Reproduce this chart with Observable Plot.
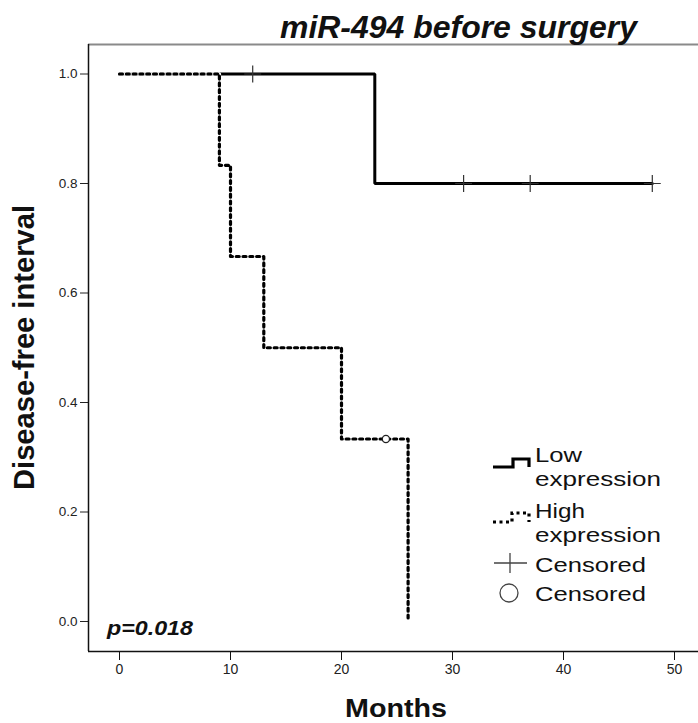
<!DOCTYPE html>
<html>
<head>
<meta charset="utf-8">
<script src="https://cdn.jsdelivr.net/npm/d3@7"></script>
<script src="https://cdn.jsdelivr.net/npm/@observablehq/plot@0.6"></script>
<style>
  html, body { margin: 0; padding: 0; background: #fff; }
  #wrap { position: relative; width: 698px; height: 723px; overflow: hidden; font-family: "Liberation Sans", Arial, sans-serif; }
  #wrap svg { position: absolute; left: 0; top: 0; }
</style>
</head>
<body>
<div id="wrap"></div>
<script>
// ---- data ----
const lowTime = [0, 23, 48];
const lowSurv = [1, 0.8, 0.8];
const highTime = [0, 9, 10, 13, 20, 26];
const highSurv = [1, 0.8333, 0.6667, 0.5, 0.3333, 0];
const lowCensTime = [12, 31, 37, 48];
const lowCensSurv = [1, 0.8, 0.8, 0.8];
const highCensTime = [24];
const highCensSurv = [0.3333];
const xTicks = [0, 10, 20, 30, 40, 50];
const yTicks = [0, 0.2, 0.4, 0.6, 0.8, 1.0];
const titleText = "miR-494 before surgery";
const xLabel = "Months";
const yLabel = "Disease-free interval";
const pText = "p=0.018";
const legendLabels = [["Low", "expression"], ["High", "expression"], ["Censored"], ["Censored"]];

const low = lowTime.map((t, i) => ({t, s: lowSurv[i]}));
const high = highTime.map((t, i) => ({t, s: highSurv[i]}));
const lowC = lowCensTime.map((t, i) => ({t, s: lowCensSurv[i]}));
const highC = highCensTime.map((t, i) => ({t, s: highCensSurv[i]}));

const xDom = [-2.793, 52.162];
const yDom = [-0.0548, 1.0539];

const chart = Plot.plot({
  width: 698,
  height: 723,
  marginLeft: 88,
  marginRight: 0,
  marginTop: 44,
  marginBottom: 72,
  style: {fontFamily: "Liberation Sans, Arial, sans-serif", background: "transparent"},
  x: {domain: xDom},
  y: {domain: yDom},
  marks: [
    Plot.axisX({ticks: xTicks, tickSize: 9, tickPadding: 4, fontSize: 14, color: "#222", label: null, stroke: "#111"}),
    Plot.axisY({ticks: yTicks, tickFormat: d3.format(".1f"), tickSize: 8, tickPadding: 3, fontSize: 13.5, color: "#222", label: null}),
    Plot.ruleY([yDom[1]], {stroke: "#8a8a8a", strokeWidth: 2.2}),
    Plot.ruleX([xDom[0]], {stroke: "#111", strokeWidth: 1.5}),
    Plot.ruleY([yDom[0]], {stroke: "#111", strokeWidth: 1.5}),
    Plot.line(low, {x: "t", y: "s", curve: "step-after", stroke: "#000", strokeWidth: 3, strokeLinejoin: "miter"}),
    Plot.line(high, {x: "t", y: "s", curve: "step-after", stroke: "#fff", strokeWidth: 3.4}),
    Plot.line(high, {x: "t", y: "s", curve: "step-after", stroke: "#000", strokeWidth: 3.2, strokeDasharray: "3,3.8"}),
    Plot.dot(lowC, {x: "t", y: "s", symbol: "plus", r: 5.5, stroke: "#333", strokeWidth: 1.2}),
    Plot.dot(highC, {x: "t", y: "s", symbol: "circle", r: 3.6, fill: "#fff", stroke: "#222", strokeWidth: 1.3})
  ]
});
document.getElementById("wrap").appendChild(chart);

// ---- overlay: titles, legend, annotation ----
const svg = d3.select("#wrap").append("svg").attr("width", 698).attr("height", 723)
  .style("font-family", "Liberation Sans, Arial, sans-serif");

svg.append("text").attr("x", 280).attr("y", 38)
  .attr("font-size", 31.5).attr("font-weight", "bold").attr("font-style", "italic").attr("fill", "#111")
  .attr("textLength", 357).attr("lengthAdjust", "spacingAndGlyphs")
  .text(titleText);

svg.append("text").attr("x", 345).attr("y", 717)
  .attr("font-size", 26).attr("font-weight", "bold").attr("fill", "#111")
  .attr("textLength", 102).attr("lengthAdjust", "spacingAndGlyphs")
  .text(xLabel);

svg.append("text").attr("transform", "translate(34,490) rotate(-90)")
  .attr("font-size", 29).attr("font-weight", "bold").attr("fill", "#111")
  .attr("textLength", 285).attr("lengthAdjust", "spacingAndGlyphs")
  .text(yLabel);

svg.append("text").attr("x", 107).attr("y", 635)
  .attr("font-size", 21).attr("font-weight", "bold").attr("font-style", "italic").attr("fill", "#111")
  .attr("textLength", 86).attr("lengthAdjust", "spacingAndGlyphs")
  .text(pText);

// legend
const lg = svg.append("g");
lg.append("path").attr("d", "M493,467 H513 V459 H529 V467").attr("fill", "none").attr("stroke", "#000").attr("stroke-width", 3.2);
lg.append("path").attr("d", "M493,522 H512 V513 H529 V522").attr("fill", "none").attr("stroke", "#000").attr("stroke-width", 3.2).attr("stroke-dasharray", "3,3.5");
lg.append("path").attr("d", "M494,563 H527 M510,553 V573").attr("stroke", "#444").attr("stroke-width", 1.3);
lg.append("circle").attr("cx", 509).attr("cy", 593).attr("r", 9).attr("fill", "none").attr("stroke", "#444").attr("stroke-width", 1.3);

const lines = [
  [legendLabels[0][0], 462, 47], [legendLabels[0][1], 486, 126],
  [legendLabels[1][0], 518, 50], [legendLabels[1][1], 542, 126],
  [legendLabels[2][0], 572, 111], [legendLabels[3][0], 601, 111]
];
lines.forEach(([t, y, w]) => {
  lg.append("text").attr("x", 535).attr("y", y).attr("font-size", 21).attr("fill", "#111")
    .attr("textLength", w).attr("lengthAdjust", "spacingAndGlyphs").text(t);
});
</script>
</body>
</html>
